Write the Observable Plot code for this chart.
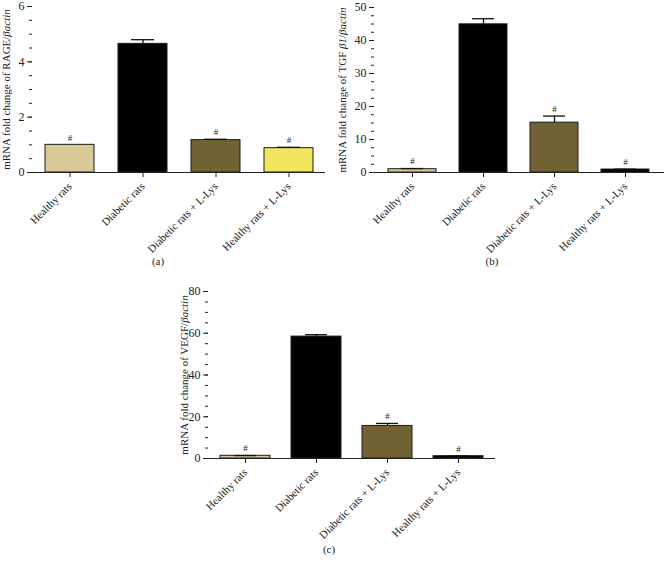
<!DOCTYPE html>
<html><head><meta charset="utf-8">
<script src="https://cdn.jsdelivr.net/npm/d3@7"></script>
<script src="https://cdn.jsdelivr.net/npm/@observablehq/plot@0.6"></script>
<style>
body{margin:0;background:#fff;}
#wrap{position:relative;width:664px;height:563px;overflow:hidden;background:#fff;}
.panel{position:absolute;}
.panel svg{overflow:visible;}
.cap{position:absolute;font:11px "Liberation Serif",serif;color:#222;transform:translateX(-50%);white-space:nowrap;}
</style></head><body>
<div id="wrap"></div>
<script>
// ---- data ----
const groups = ["Healthy rats", "Diabetic rats", "Diabetic rats + L-Lys", "Healthy rats + L-Lys"];
const significant = [true, false, true, true];

const rageValues = [1.0, 4.65, 1.17, 0.88];
const rageErrors = [0.0, 0.15, 0.03, 0.03];
const rageTicks = [0, 2, 4, 6];
const rageMinor = [0, 0.5, 1, 1.5, 2, 2.5, 3, 3.5, 4, 4.5, 5, 5.5, 6];
const rageColors = ["#d8c996", "#000000", "#706232", "#f3e65e"];
const rageLabel = [["mRNA fold change of RAGE/", false], ["βactin", true]];

const tgfValues = [1.0, 44.9, 15.1, 0.9];
const tgfErrors = [0.2, 1.7, 2.0, 0.1];
const tgfTicks = [0, 10, 20, 30, 40, 50];
const tgfMinor = [0, 2.5, 5, 7.5, 10, 12.5, 15, 17.5, 20, 22.5, 25, 27.5, 30, 32.5, 35, 37.5, 40, 42.5, 45, 47.5, 50];
const tgfColors = ["#d8c996", "#000000", "#706232", "#000000"];
const tgfLabel = [["mRNA fold change of TGF ", false], ["β1", true], ["/", false], ["βactin", true]];

const vegfValues = [1.3, 58.4, 15.6, 1.1];
const vegfErrors = [0.1, 0.9, 1.2, 0.1];
const vegfTicks = [0, 20, 40, 60, 80];
const vegfMinor = [0, 5, 10, 15, 20, 25, 30, 35, 40, 45, 50, 55, 60, 65, 70, 75, 80];
const vegfColors = ["#d8c996", "#000000", "#706232", "#000000"];
const vegfLabel = [["mRNA fold change of VEGF/", false], ["βactin", true]];

const captions = ["(a)", "(b)", "(c)"];

const wrap = document.getElementById("wrap");

function panel(cfg) {
  const rows = groups.map((g, i) => ({
    group: g, value: cfg.values[i], err: cfg.errors[i],
    top: cfg.values[i] + cfg.errors[i], sig: significant[i]
  }));
  const withErr = rows.filter(d => d.err > 0);
  const chart = Plot.plot({
    width: cfg.width, height: cfg.height,
    marginLeft: cfg.ml, marginRight: cfg.mr, marginTop: cfg.mt, marginBottom: cfg.mb,
    style: {fontFamily: '"Liberation Serif", "DejaVu Serif", serif', fontSize: "12px", color: "#222", background: "transparent", overflow: "visible"},
    x: {domain: groups, paddingInner: cfg.pi, paddingOuter: cfg.po},
    y: {domain: cfg.yDomain},
    color: {domain: groups, range: cfg.colors},
    marks: [
      Plot.barY(rows, {x: "group", y: "value", fill: "group", stroke: "#1a1a1a", strokeWidth: 1}),
      Plot.ruleX(withErr, {x: "group", y1: "value", y2: "top", stroke: "#111", strokeWidth: 1.3}),
      Plot.tickY(withErr, {x: "group", y: "top", insetLeft: cfg.cap, insetRight: cfg.cap, stroke: "#111", strokeWidth: 1.3}),
      Plot.text(rows.filter(d => d.sig), {x: "group", y: "top", text: () => "#", dy: -7, fontSize: 9, fill: "#222"}),
      Plot.ruleY([0], {stroke: "#222", strokeWidth: 1.2}),
      Plot.axisY(cfg.minor, {tickSize: 3, tickFormat: () => "", label: null, stroke: "#222"}),
      Plot.axisY(cfg.ticks, {tickSize: 5, tickPadding: 3, tickFormat: d3.format("~g"), line: true, label: "Y", labelAnchor: "center", labelArrow: "none", labelOffset: cfg.lo, fontSize: 12, stroke: "#222"}),
      Plot.axisX({tickRotate: -45, tickSize: 5, tickPadding: 7, label: null, fontSize: 11, stroke: "#222"})
    ]
  });
  // rich y label with italic parts
  const lab = chart.querySelector('g[aria-label="y-axis label"] text');
  if (lab) {
    lab.textContent = "";
    lab.setAttribute("font-size", "11");
    for (const [t, it] of cfg.label) {
      const ts = document.createElementNS("http://www.w3.org/2000/svg", "tspan");
      ts.textContent = t;
      if (it) ts.setAttribute("font-style", "italic");
      lab.appendChild(ts);
    }
  }
  const div = document.createElement("div");
  div.className = "panel";
  div.style.left = cfg.left + "px";
  div.style.top = cfg.top + "px";
  div.appendChild(chart);
  wrap.appendChild(div);
  const cap = document.createElement("div");
  cap.className = "cap";
  cap.textContent = cfg.caption;
  cap.style.left = cfg.capX + "px";
  cap.style.top = cfg.capY + "px";
  wrap.appendChild(cap);
}

panel({values: rageValues, errors: rageErrors, colors: rageColors, ticks: rageTicks, minor: rageMinor,
  yDomain: [0, 6], label: rageLabel, left: 0, top: 0, width: 330, height: 255,
  ml: 32, mr: 5, mt: 6, mb: 83, pi: 0.33, po: 0.17, cap: 13, lo: 30, caption: captions[0], capX: 158, capY: 255});

panel({values: tgfValues, errors: tgfErrors, colors: tgfColors, ticks: tgfTicks, minor: tgfMinor,
  yDomain: [0, 50], label: tgfLabel, left: 330, top: 0, width: 334, height: 255,
  ml: 44, mr: 0, mt: 7, mb: 83, pi: 0.32, po: 0.2, cap: 13, lo: 36, caption: captions[1], capX: 492, capY: 255});

panel({values: vegfValues, errors: vegfErrors, colors: vegfColors, ticks: vegfTicks, minor: vegfMinor,
  yDomain: [0, 80], label: vegfLabel, left: 180, top: 280, width: 330, height: 263,
  ml: 28, mr: 15, mt: 11, mb: 85, pi: 0.29, po: 0.14, cap: 14, lo: 28, caption: captions[2], capX: 329, capY: 543});
</script>
</body></html>
